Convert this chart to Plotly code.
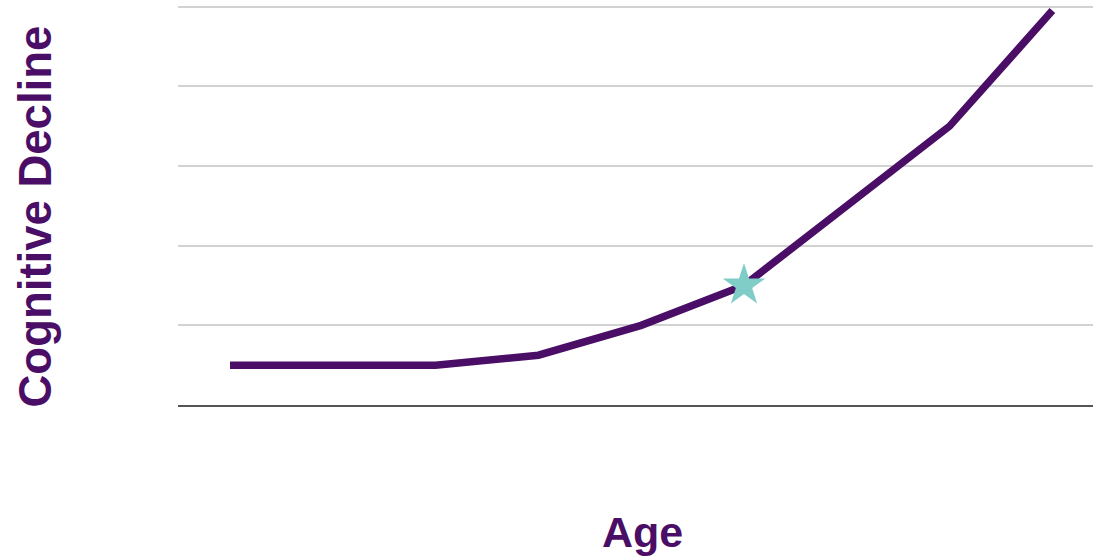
import plotly.graph_objects as go

# Data
age_index = [0, 1, 2, 3, 4, 5, 6, 7, 8]
decline = [0.5, 0.5, 0.5, 0.625, 1.0, 1.5, 2.5, 3.5, 4.95]
star_index = [5]
star_value = [1.5]
y_ticks = [0, 1, 2, 3, 4, 5]

W, H = 1093, 559
L, R, T, B = 178, 0, 5, 154

def px_x(p):
    return (p - L) / (W - L - R)

def px_y(p):
    return (H - B - p) / (H - T - B)

fig = go.Figure()
fig.add_trace(go.Scatter(
    x=age_index, y=decline, mode="lines",
    line=dict(color="#4b0e66", width=7.5),
    hoverinfo="skip", showlegend=False,
))
fig.add_trace(go.Scatter(
    x=star_index, y=star_value, mode="markers",
    marker=dict(symbol="star", size=32, color="#80ccc6", line=dict(width=0)),
    hoverinfo="skip", showlegend=False,
))

fig.update_layout(
    width=W, height=H,
    margin=dict(l=L, r=R, t=T, b=B),
    plot_bgcolor="white", paper_bgcolor="white",
    font=dict(family="Liberation Sans, Arial, sans-serif"),
    xaxis=dict(range=[-0.506, 8.395], showgrid=False, zeroline=False,
               showticklabels=False, ticks="", showline=True,
               linecolor="#555555", linewidth=2),
    yaxis=dict(range=[0, 5.02], tickvals=y_ticks, showticklabels=False, ticks="",
               showgrid=True, gridcolor="#d2d2d2", gridwidth=1.5,
               zeroline=False, showline=False),
    annotations=[
        dict(text="<b>Age</b>", xref="paper", yref="paper",
             x=px_x(642.5), y=px_y(532), xanchor="center", yanchor="middle",
             showarrow=False, font=dict(size=43, color="#4b0e66")),
        dict(text="<b>Cognitive Decline</b>", xref="paper", yref="paper",
             x=px_x(35), y=px_y(216.5), xanchor="center", yanchor="middle",
             textangle=-90, showarrow=False, font=dict(size=45.5, color="#4b0e66")),
    ],
)

fig.write_html("out.html")
